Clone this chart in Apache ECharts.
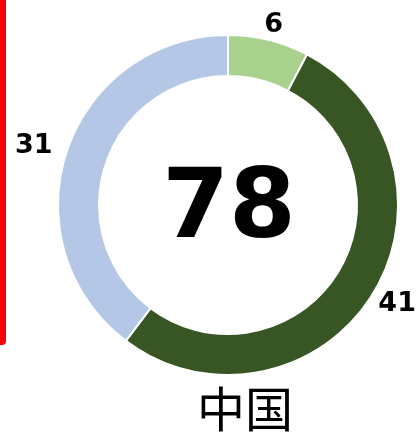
<!DOCTYPE html>
<html lang="zh">
<head>
  <meta charset="UTF-8">
  <title>中国</title>
  <script src="https://cdn.jsdelivr.net/npm/echarts@6/dist/echarts.min.js"></script>
  <style>
    html, body { margin: 0; padding: 0; background: #fff; }
    #target { width: 418px; height: 434px; }
  </style>
</head>
<body>
  <div id="target"></div>
  <script>
    const categories = ['A', 'B', 'C'];
    const values = [6, 41, 31];
    const colors = ['#a9d18e', '#375623', '#b4c7e7'];
    const regionName = '中国';

    const total = values.reduce((s, v) => s + v, 0);

    const option = {
      animation: false,
      graphic: [
        {
          type: 'rect',
          shape: { x: 0, y: -6, width: 6, height: 351, r: [0, 0, 4, 0] },
          style: { fill: '#ff0000' }
        },
        {
          type: 'text',
          x: 229, y: 212,
          style: {
            text: String(total),
            font: 'bold 96px "DejaVu Sans"',
            fill: '#000',
            align: 'center',
            verticalAlign: 'middle'
          }
        },
        {
          type: 'text',
          x: 245, y: 409,
          style: {
            text: regionName,
            font: '48px "Noto Sans CJK SC"',
            fill: '#000',
            align: 'center',
            verticalAlign: 'middle'
          }
        }
      ],
      series: [
        {
          type: 'pie',
          center: [228, 205],
          radius: [129, 170],
          startAngle: 90,
          clockwise: true,
          avoidLabelOverlap: false,
          silent: true,
          itemStyle: { borderColor: '#fff', borderWidth: 2 },
          label: {
            show: true,
            position: 'outside',
            formatter: '{c}',
            fontFamily: 'DejaVu Sans',
            fontWeight: 'bold',
            fontSize: 27,
            color: '#000',
            distanceToLabelLine: 0
          },
          labelLine: { show: false, length: 15, length2: 0 },
          data: categories.map((name, i) => ({
            name,
            value: values[i],
            itemStyle: { color: colors[i] },
            label: { offset: [[-8, 0], [-6, 0], [0, 0]][i] }
          }))
        }
      ]
    };
    echarts.init(document.getElementById('target')).setOption(option);
  </script>
</body>
</html>
